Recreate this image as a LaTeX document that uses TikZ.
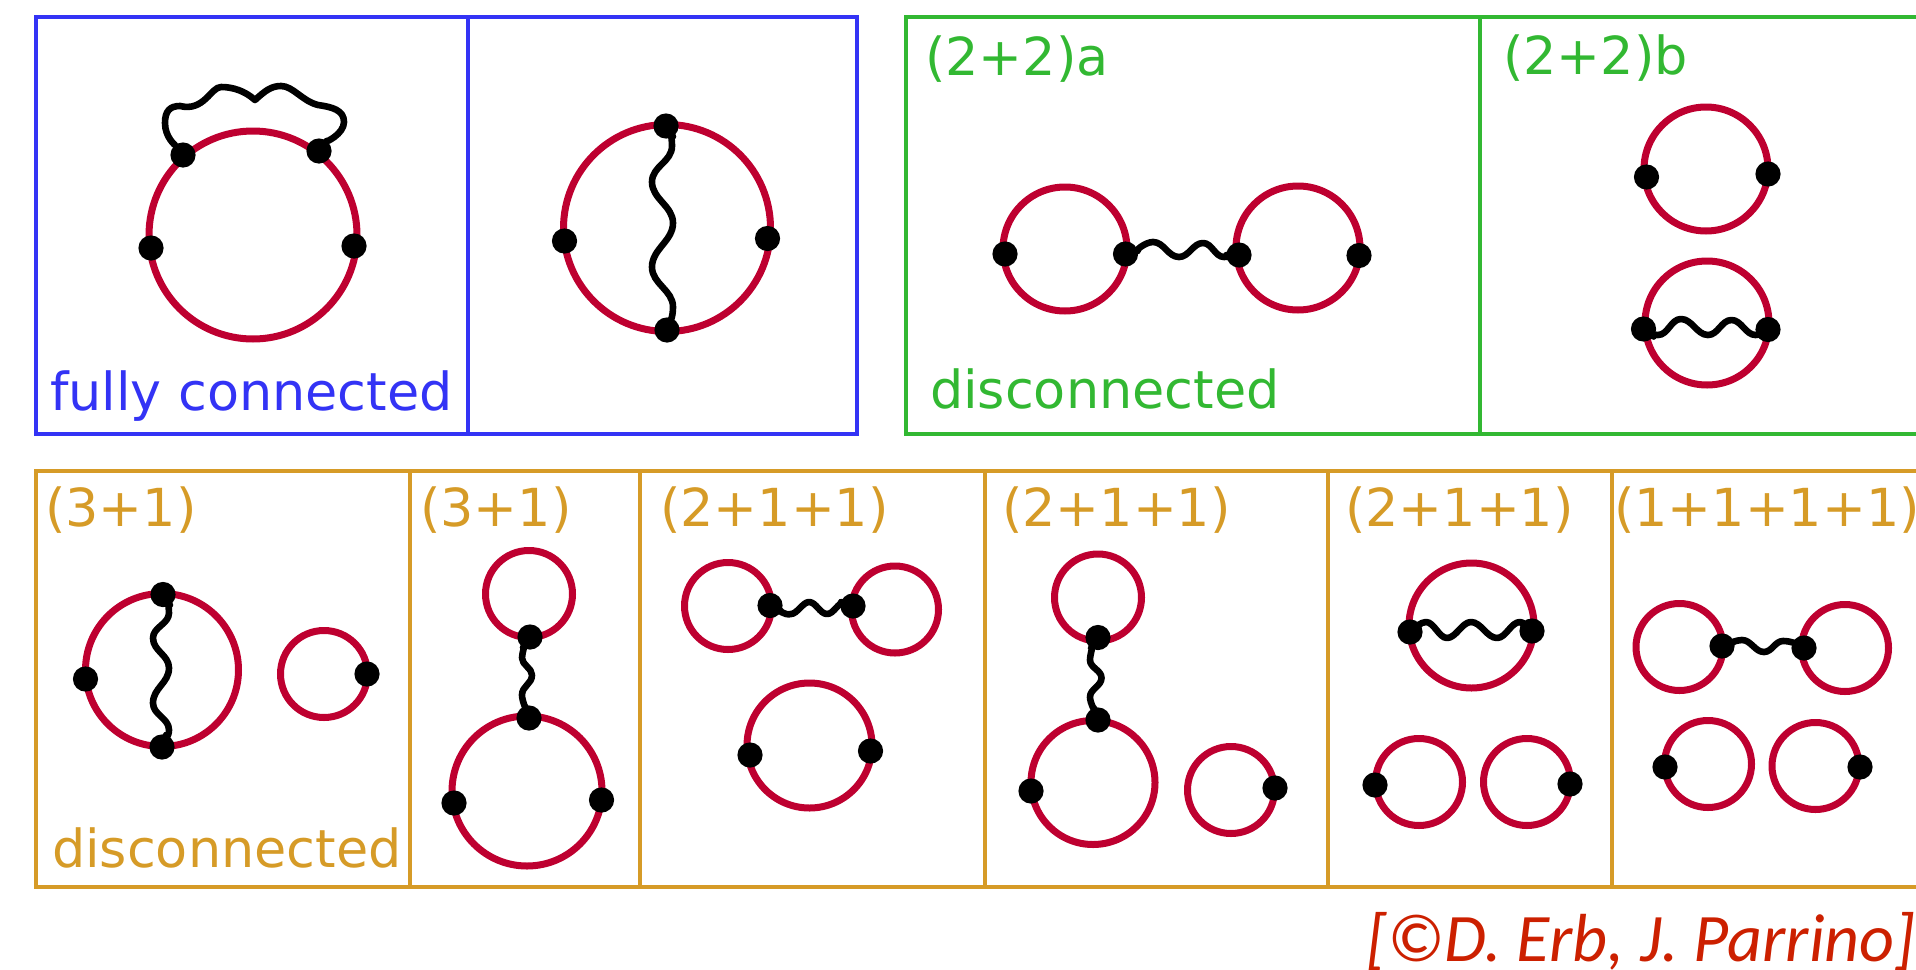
\documentclass[tikz,border=0pt]{standalone}
\usepackage{fontspec}
\setmainfont{DejaVu Sans}
\newfontfamily\credfont{Carlito}
\definecolor{bluec}{RGB}{51,51,245}
\definecolor{greenc}{RGB}{50,184,50}
\definecolor{orangec}{RGB}{214,155,39}
\definecolor{ringc}{RGB}{190,0,48}
\definecolor{credc}{RGB}{204,32,0}
\tikzset{
  ring/.style={circle,draw=ringc,line width=3.5pt,inner sep=0pt,outer sep=0pt,fill=none},
  dot/.style={circle,fill=black,inner sep=0pt,outer sep=0pt,minimum size=12.6pt},
  wig/.style={black,line width=3.3pt,line join=round,line cap=round},
  panel/.style={line width=2.4pt,line join=miter},
  lab/.style={anchor=base west,inner sep=0pt,outer sep=0pt,font=\fontsize{26.2}{30}\selectfont},
}
\begin{document}
\begin{tikzpicture}[x=0.5pt,y=-0.5pt]
\clip (0,0) rectangle (1916,969);
% panels
\draw[panel,bluec] (36,17) rectangle (857,434);
\draw[panel,bluec] (468,17) -- (468,434);
\draw[panel,greenc] (1930,17) -- (906,17) -- (906,434) -- (1930,434);
\draw[panel,greenc] (1480,17) -- (1480,434);
\draw[panel,orangec] (1930,471) -- (36,471) -- (36,887) -- (1930,887);
\draw[panel,orangec] (410,471) -- (410,887);
\draw[panel,orangec] (640,471) -- (640,887);
\draw[panel,orangec] (985,471) -- (985,887);
\draw[panel,orangec] (1328,471) -- (1328,887);
\draw[panel,orangec] (1612,471) -- (1612,887);
% labels
\node[lab,text=bluec] (tA) at (50,410) {fully connected};
\node[lab,text=greenc] (tB) at (925,75) {(2+2)a};
\node[lab,text=greenc] (tC) at (1503,74) {(2+2)b};
\node[lab,text=greenc] (tD) at (930,408) {disconnected};
\node[lab,text=orangec] (tE) at (45,526) {(3+1)};
\node[lab,text=orangec] (tF) at (52,867) {disconnected};
\node[lab,text=orangec] (tG) at (420,526) {(3+1)};
\node[lab,text=orangec] (tH) at (660,526) {(2+1+1)};
\node[lab,text=orangec] (tI) at (1002,526) {(2+1+1)};
\node[lab,text=orangec] (tJ) at (1345,526) {(2+1+1)};
\node[lab,text=orangec] (tK) at (1614,526) {(1+1+1+1)};
\node[anchor=base east,inner sep=0pt,text=credc,font=\credfont\itshape\fontsize{34}{40}\selectfont] (tL) at (1916,961) {[©D. Erb, J. Parrino]};
% rings
\node[ring,minimum size=104pt] (r1) at (253,235) {};
\node[ring,minimum size=103.5pt] (r2) at (667,228) {};
\node[ring,minimum size=62pt] (r3) at (1065,249) {};
\node[ring,minimum size=62pt] (r4) at (1298,248) {};
\node[ring,minimum size=62pt] (r5) at (1706,169) {};
\node[ring,minimum size=62pt] (r6) at (1707,323) {};
\node[ring,minimum size=76.5pt] (r7) at (162,670) {};
\node[ring,minimum size=43.5pt] (r8) at (324,674) {};
\node[ring,minimum size=43.5pt] (r9) at (529,594) {};
\node[ring,minimum size=75pt] (r10) at (527,791) {};
\node[ring,minimum size=43.5pt] (r11) at (728,606) {};
\node[ring,minimum size=43.5pt] (r12) at (895,609.5) {};
\node[ring,minimum size=62.5pt] (r13) at (809.5,745.5) {};
\node[ring,minimum size=43.5pt] (r14) at (1098,597.5) {};
\node[ring,minimum size=62pt] (r15) at (1093,782.5) {};
\node[ring,minimum size=43.5pt] (r16) at (1231,790) {};
\node[ring,minimum size=62.5pt] (r17) at (1471.5,625.5) {};
\node[ring,minimum size=43.5pt] (r18) at (1419,782) {};
\node[ring,minimum size=43.5pt] (r19) at (1527,782) {};
\node[ring,minimum size=43.5pt] (r20) at (1679.5,647) {};
\node[ring,minimum size=43.5pt] (r21) at (1845,648) {};
\node[ring,minimum size=43.5pt] (r22) at (1708,764) {};
\node[ring,minimum size=43.5pt] (r23) at (1815.5,766) {};
% vertices
\node[dot] (a1) at (183,155) {};
\node[dot] (a2) at (319,151) {};
\node[dot] (a3) at (151,248) {};
\node[dot] (a4) at (354,246) {};
\node[dot] (b1) at (666,126) {};
\node[dot] (b2) at (667,330) {};
\node[dot] (b3) at (564.5,241) {};
\node[dot] (b4) at (767.5,238.5) {};
\node[dot] (c1) at (1005,254) {};
\node[dot] (c2) at (1125.5,254) {};
\node[dot] (c3) at (1239,255) {};
\node[dot] (c4) at (1359,255.5) {};
\node[dot] (d1) at (1646.5,177) {};
\node[dot] (d2) at (1768,174) {};
\node[dot] (e1) at (1643.5,329) {};
\node[dot] (e2) at (1768,329.5) {};
\node[dot] (f1) at (163,594.5) {};
\node[dot] (f2) at (162,747) {};
\node[dot] (f3) at (85.5,679) {};
\node[dot] (f4) at (367,674) {};
\node[dot] (g1) at (530,637) {};
\node[dot] (g2) at (529,718) {};
\node[dot] (g3) at (454,803) {};
\node[dot] (g4) at (601.5,800) {};
\node[dot] (h1) at (770,605.5) {};
\node[dot] (h2) at (853,606) {};
\node[dot] (h3) at (750,755) {};
\node[dot] (h4) at (870.5,751) {};
\node[dot] (i1) at (1098,637.5) {};
\node[dot] (i2) at (1098,720) {};
\node[dot] (i3) at (1031,791) {};
\node[dot] (i4) at (1275,788) {};
\node[dot] (j1) at (1410,632) {};
\node[dot] (j2) at (1532,631) {};
\node[dot] (j3) at (1375,785) {};
\node[dot] (j4) at (1570,784) {};
\node[dot] (k1) at (1722,646) {};
\node[dot] (k2) at (1804,648) {};
\node[dot] (k3) at (1665,767) {};
\node[dot] (k4) at (1860,767) {};
% wavy lines
\draw[wig] (a1) .. controls +(-8,-10) and +(0,14) .. (165,123) .. controls +(0,-12) and +(-10,0) .. (180,106) .. controls +(24,6) and +(-10,0) .. (221,87) .. controls +(12,0) and +(-10,-9) .. (255,100) .. controls +(10,-9) and +(-10,0) .. (281,86) .. controls +(12,0) and +(-16,-4) .. (318,105) .. controls +(14,2) and +(0,-12) .. (344,122) .. controls +(0,12) and +(6,-8) .. (a2);
\draw[wig] (b1) .. controls +(4,6) and +(0,-8) .. (672,146) .. controls +(0,16) and +(0,-16) .. (652,182) .. controls +(0,17) and +(0,-17) .. (673,223) .. controls +(0,18) and +(0,-18) .. (652,267) .. controls +(0,17) and +(0,-17) .. (673,307) .. controls +(0,10) and +(3,-8) .. (b2);
\draw[wig] (c2) .. controls +(8,-2) and +(-8,0) .. (1153,242) .. controls +(11,0) and +(-11,0) .. (1179,257) .. controls +(10,0) and +(-10,0) .. (1203,243) .. controls +(9,0) and +(-9,0) .. (1224,257) .. controls +(6,0) and +(-5,0) .. (c3);
\draw[wig] (e1) .. controls +(4,3) and +(-5,0) .. (1658,335) .. controls +(10,0) and +(-10,0) .. (1681,319) .. controls +(11,0) and +(-11,0) .. (1708,335) .. controls +(10,0) and +(-10,0) .. (1731.5,320) .. controls +(10,0) and +(-10,0) .. (1755.5,335) .. controls +(5,0) and +(-4,2) .. (e2);
\draw[wig] (f1) .. controls +(4,6) and +(0,-6) .. (169,613) .. controls +(0,11) and +(0,-11) .. (153,638) .. controls +(0,13) and +(0,-13) .. (169,668) .. controls +(0,15) and +(0,-15) .. (153,703) .. controls +(0,12) and +(0,-12) .. (169,730) .. controls +(0,7) and +(2,-6) .. (f2);
\draw[wig] (g1) .. controls +(-4,6) and +(0,-6) .. (522,658) .. controls +(0,7) and +(0,-7) .. (532,675) .. controls +(0,9) and +(0,-9) .. (522,695) .. controls +(0,6) and +(-2,-6) .. (g2);
\draw[wig] (h1) .. controls +(6,3) and +(-6,2) .. (791,614) .. controls +(6,0) and +(-6,0) .. (809,602) .. controls +(7,0) and +(-7,0) .. (827,614) .. controls +(7,0) and +(-7,0) .. (845,602) .. controls +(3,0) and +(-3,-1) .. (h2);
\draw[wig] (i1) .. controls +(-4,6) and +(0,-6) .. (1090,660) .. controls +(0,8) and +(0,-8) .. (1101.5,678) .. controls +(0,8) and +(0,-8) .. (1090,697) .. controls +(0,6) and +(-2,-6) .. (i2);
\draw[wig] (j1) .. controls +(5,-4) and +(-5,0) .. (1426,622) .. controls +(8,0) and +(-8,0) .. (1447,638) .. controls +(9,0) and +(-9,0) .. (1471,622) .. controls +(10,0) and +(-10,0) .. (1497,638) .. controls +(9,0) and +(-9,0) .. (1520,622) .. controls +(4,0) and +(-4,-3) .. (j2);
\draw[wig] (k1) .. controls +(6,-2) and +(-6,0) .. (1742,640) .. controls +(9,0) and +(-9,0) .. (1764,652) .. controls +(8,0) and +(-8,0) .. (1783,641) .. controls +(8,0) and +(-8,-4) .. (k2);
\end{tikzpicture}
\end{document}
